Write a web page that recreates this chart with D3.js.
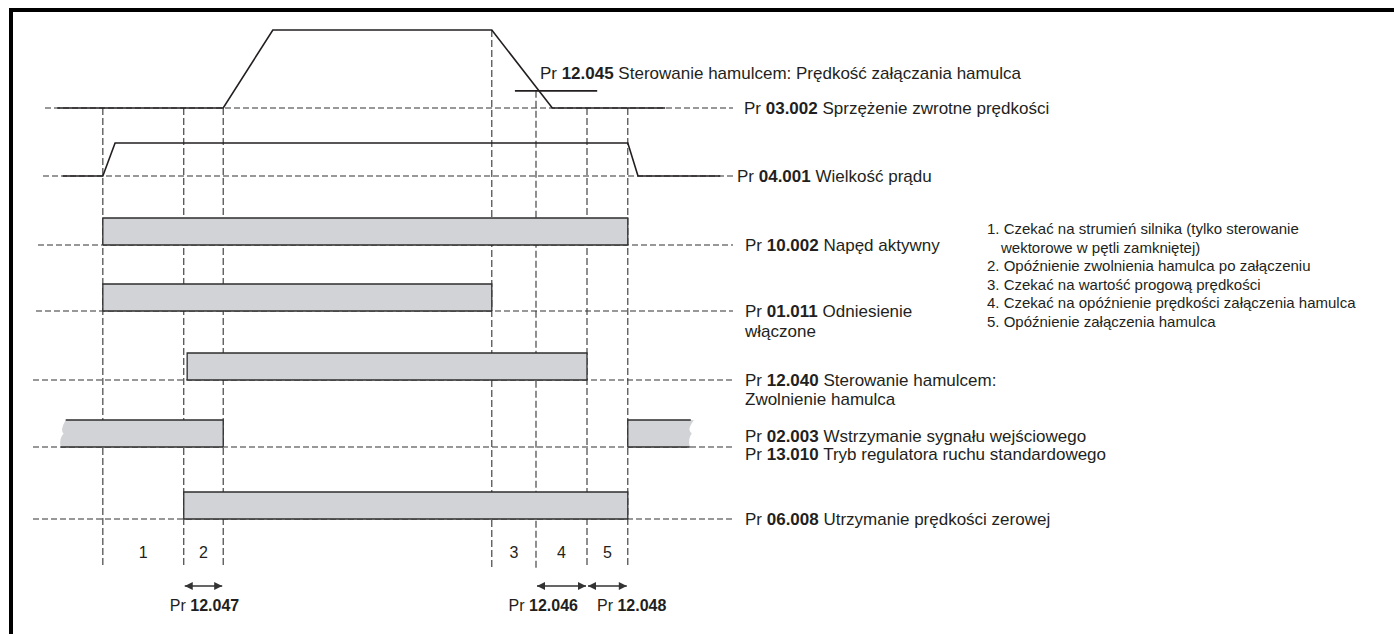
<!DOCTYPE html>
<html>
<head>
<meta charset="utf-8">
<script src="https://cdnjs.cloudflare.com/ajax/libs/d3/7.8.5/d3.min.js"></script>
<style>
body { margin: 0; background: #fff; }
svg text { font-family: "Liberation Sans", Arial, sans-serif; fill: #231f20; }
</style>
</head>
<body>
<svg id="chart"></svg>
<script>
// time runs 0..100 in arbitrary units, levels 0..1
var eventTimes = [8.8, 20.7, 26.5, 66.0, 72.5, 80.0, 86.0];
var eventTopLevel = [0, 0, 0, 1, 0.22, 0, 0];
var periodLabels = ["1", "2", "3", "4", "5"];
var periodFrom = [0, 1, 3, 4, 5];

var speedT = [2.1, 26.5, 33.8, 66.0, 74.9, 91.5];
var speedV = [0, 0, 1, 1, 0, 0];
var brakeSpeedT = [69.4, 81.5];
var brakeSpeedV = 0.22;

var currentT = [2.9, 8.8, 10.6, 86.0, 87.5, 99.6];
var currentV = [0, 0, 1, 1, 0, 0];

var rowCodes = ["03.002", "04.001", "10.002", "01.011", "12.040", "02.003", "06.008"];
var digitalRows = ["10.002", "01.011", "12.040", "02.003", "06.008"];
var digitalOn = [
  [[8.8, 86.0]],
  [[8.8, 66.0]],
  [[21.2, 80.0]],
  [[2.6, 26.5], [86.0, 95.7]],
  [[20.7, 86.0]]
];
// bars that continue off the drawing get a torn end: [start torn, end torn]
var digitalTorn = [
  [[0, 0]],
  [[0, 0]],
  [[0, 0]],
  [[1, 0], [0, 1]],
  [[0, 0]]
];

var labelLines = [
  [["03.002", "Sprzężenie zwrotne prędkości"]],
  [["04.001", "Wielkość prądu"]],
  [["10.002", "Napęd aktywny"]],
  [["01.011", "Odniesienie"], [null, "włączone"]],
  [["12.040", "Sterowanie hamulcem:"], [null, "Zwolnienie hamulca"]],
  [["02.003", "Wstrzymanie sygnału wejściowego"], ["13.010", "Tryb regulatora ruchu standardowego"]],
  [["06.008", "Utrzymanie prędkości zerowej"]]
];
var brakeLabel = ["12.045", "Sterowanie hamulcem: Prędkość załączania hamulca"];

var delayCodes = ["12.047", "12.046", "12.048"];
var delayFrom = [1, 4, 5];

var notes = [
  "1. Czekać na strumień silnika (tylko sterowanie",
  "wektorowe w pętli zamkniętej)",
  "2. Opóźnienie zwolnienia hamulca po załączeniu",
  "3. Czekać na wartość progową prędkości",
  "4. Czekać na opóźnienie prędkości załączenia hamulca",
  "5. Opóźnienie załączenia hamulca"
];
var noteIndent = [false, true, false, false, false, false];

// layout
var W = 1394, H = 634,
    rowY = [108, 176, 245, 311, 380, 447, 519],
    guideStart = [45, 43, 38, 36, 33, 33, 33],
    guideEnd = 733,
    labelX = [744, 737, 745, 745, 745, 745, 745],
    lineOffset = [[0], [0], [0], [0, 20], [0, 19], [-11, 7], [0]],
    barH = 27,
    vBottom = 568,
    ink = "#231f20";

var svg = d3.select("#chart").attr("width", W).attr("height", H);

var x = d3.scaleLinear().domain([0, 100]).range([43, 723]);
var row = d3.scaleOrdinal().domain(rowCodes).range(rowY);
var ySpeed = d3.scaleLinear().domain([0, 1]).range([row("03.002"), 30]);
var yCurrent = d3.scaleLinear().domain([0, 1]).range([row("04.001"), 143]);

// frame
svg.append("rect").attr("x", 9).attr("y", 8).attr("width", W - 9).attr("height", 4).attr("fill", "#000");
svg.append("rect").attr("x", 9).attr("y", 8).attr("width", 4).attr("height", H - 8).attr("fill", "#000");

// dashed row baselines
svg.append("g").selectAll("line")
  .data(rowCodes)
  .enter().append("line")
    .attr("x1", function(d, i) { return guideStart[i]; })
    .attr("x2", guideEnd)
    .attr("y1", function(d) { return row(d); })
    .attr("y2", function(d) { return row(d); })
    .attr("stroke", "#333").attr("stroke-width", 1.1)
    .attr("stroke-dasharray", "6,3");

// dashed event verticals
svg.append("g").selectAll("line")
  .data(eventTimes)
  .enter().append("line")
    .attr("x1", function(d) { return x(d); })
    .attr("x2", function(d) { return x(d); })
    .attr("y1", function(d, i) { return ySpeed(eventTopLevel[i]); })
    .attr("y2", vBottom)
    .attr("stroke", "#333").attr("stroke-width", 1.1)
    .attr("stroke-dasharray", "7,3");

// digital bars
function barPath(s, e, torn, y0) {
  var x0 = x(s), x1 = x(e), yt = y0 - barH, ym = y0 - barH / 2;
  var p = d3.path();
  if (torn[0]) {
    p.moveTo(x0 + 5, yt);
    p.lineTo(x1, yt);
  } else {
    p.moveTo(x0, yt);
    p.lineTo(x1, yt);
  }
  if (torn[1]) {
    p.lineTo(x1 - 3, yt + 5);
    p.quadraticCurveTo(x1 - 6, ym - 3, x1 - 2, ym);
    p.quadraticCurveTo(x1 - 6, ym + 5, x1 - 4, y0);
  } else {
    p.lineTo(x1, y0);
  }
  if (torn[0]) {
    p.lineTo(x0, y0);
    p.quadraticCurveTo(x0 - 2, ym + 5, x0 + 3, ym);
    p.quadraticCurveTo(x0 - 1, ym - 3, x0 + 5, yt);
  } else {
    p.lineTo(x0, y0);
  }
  p.closePath();
  return p.toString();
}

digitalRows.forEach(function(code, r) {
  var y0 = row(code);
  var g = svg.append("g");
  g.selectAll("path.bar")
    .data(digitalOn[r])
    .enter().append("path")
      .attr("class", "bar")
      .attr("d", function(d, i) { return barPath(d[0], d[1], digitalTorn[r][i], y0); })
      .attr("fill", "#d1d3d6");
  // outline only on the real edges
  g.selectAll("path.edge")
    .data(digitalOn[r])
    .enter().append("path")
      .attr("class", "edge")
      .attr("d", function(d, i) {
        var t = digitalTorn[r][i], p = d3.path(), x0 = x(d[0]), x1 = x(d[1]);
        p.moveTo(t[0] ? x0 + 5 : x0, y0);
        if (!t[0]) p.lineTo(x0, y0 - barH); else p.moveTo(x0 + 5, y0 - barH);
        p.lineTo(t[1] ? x1 - 3 : x1, y0 - barH);
        if (!t[1]) p.lineTo(x1, y0);
        p.moveTo(x0, y0);
        p.lineTo(t[1] ? x1 - 4 : x1, y0);
        return p.toString();
      })
      .attr("fill", "none").attr("stroke", "#2e2e2e").attr("stroke-width", 1.3);
});

// analog traces
var line = d3.line();
svg.append("path")
  .attr("d", line(speedT.map(function(t, i) { return [x(t), ySpeed(speedV[i])]; })))
  .attr("fill", "none").attr("stroke", ink).attr("stroke-width", 1.6);
svg.append("path")
  .attr("d", line(currentT.map(function(t, i) { return [x(t), yCurrent(currentV[i])]; })))
  .attr("fill", "none").attr("stroke", ink).attr("stroke-width", 1.6);
svg.append("path")
  .attr("d", line(brakeSpeedT.map(function(t) { return [x(t), ySpeed(brakeSpeedV)]; })))
  .attr("fill", "none").attr("stroke", ink).attr("stroke-width", 1.6);

// labels
function addLabel(sel, code, text) {
  if (code) {
    sel.append("tspan").text("Pr ");
    sel.append("tspan").attr("font-weight", "bold").text(code);
    sel.append("tspan").text(" " + text);
  } else {
    sel.text(text);
  }
}

labelLines.forEach(function(lines, r) {
  lines.forEach(function(l, k) {
    var t = svg.append("text")
      .attr("x", labelX[r])
      .attr("y", row(rowCodes[r]) + lineOffset[r][k] + 6)
      .attr("font-size", 17);
    addLabel(t, l[0], l[1]);
  });
});

var bt = svg.append("text")
  .attr("x", x(brakeSpeedT[0]) + 25)
  .attr("y", ySpeed(brakeSpeedV) - 12)
  .attr("font-size", 17);
addLabel(bt, brakeLabel[0], brakeLabel[1]);

// period numbers
svg.append("g").selectAll("text")
  .data(periodLabels)
  .enter().append("text")
    .attr("x", function(d, i) { return (x(eventTimes[periodFrom[i]]) + x(eventTimes[periodFrom[i] + 1])) / 2; })
    .attr("y", 558)
    .attr("text-anchor", "middle")
    .attr("font-size", 16)
    .text(function(d) { return d; });

// delay arrows
svg.append("defs").append("marker")
  .attr("id", "head")
  .attr("viewBox", "0 0 10 10")
  .attr("refX", 10).attr("refY", 5)
  .attr("markerWidth", 10).attr("markerHeight", 8)
  .attr("markerUnits", "userSpaceOnUse")
  .attr("orient", "auto-start-reverse")
  .append("path").attr("d", "M0,0L10,5L0,10Z").attr("fill", "#333");

svg.append("g").selectAll("line")
  .data(delayFrom)
  .enter().append("line")
    .attr("x1", function(d) { return x(eventTimes[d]) + 1; })
    .attr("x2", function(d) { return x(eventTimes[d + 1]) - 1; })
    .attr("y1", 586).attr("y2", 586)
    .attr("stroke", "#333").attr("stroke-width", 1.6)
    .attr("marker-start", "url(#head)")
    .attr("marker-end", "url(#head)");

// delay labels: first centred, the adjoining pair sit either side of their shared line
var delayAnchor = ["middle", "end", "start"];
delayCodes.forEach(function(code, i) {
  var a = x(eventTimes[delayFrom[i]]), b = x(eventTimes[delayFrom[i] + 1]), px;
  if (delayAnchor[i] === "middle") px = (a + b) / 2 + 1;
  else if (delayAnchor[i] === "end") px = b - 9;
  else px = a + 10;
  var t = svg.append("text")
    .attr("x", px).attr("y", 611)
    .attr("text-anchor", delayAnchor[i])
    .attr("font-size", 16);
  t.append("tspan").text("Pr ");
  t.append("tspan").attr("font-weight", "bold").text(code);
});

// notes
svg.append("g").selectAll("text")
  .data(notes)
  .enter().append("text")
    .attr("x", function(d, i) { return noteIndent[i] ? 1001 : 987; })
    .attr("y", function(d, i) { return 234 + i * 18.5; })
    .attr("font-size", 15)
    .text(function(d) { return d; });
</script>
</body>
</html>
